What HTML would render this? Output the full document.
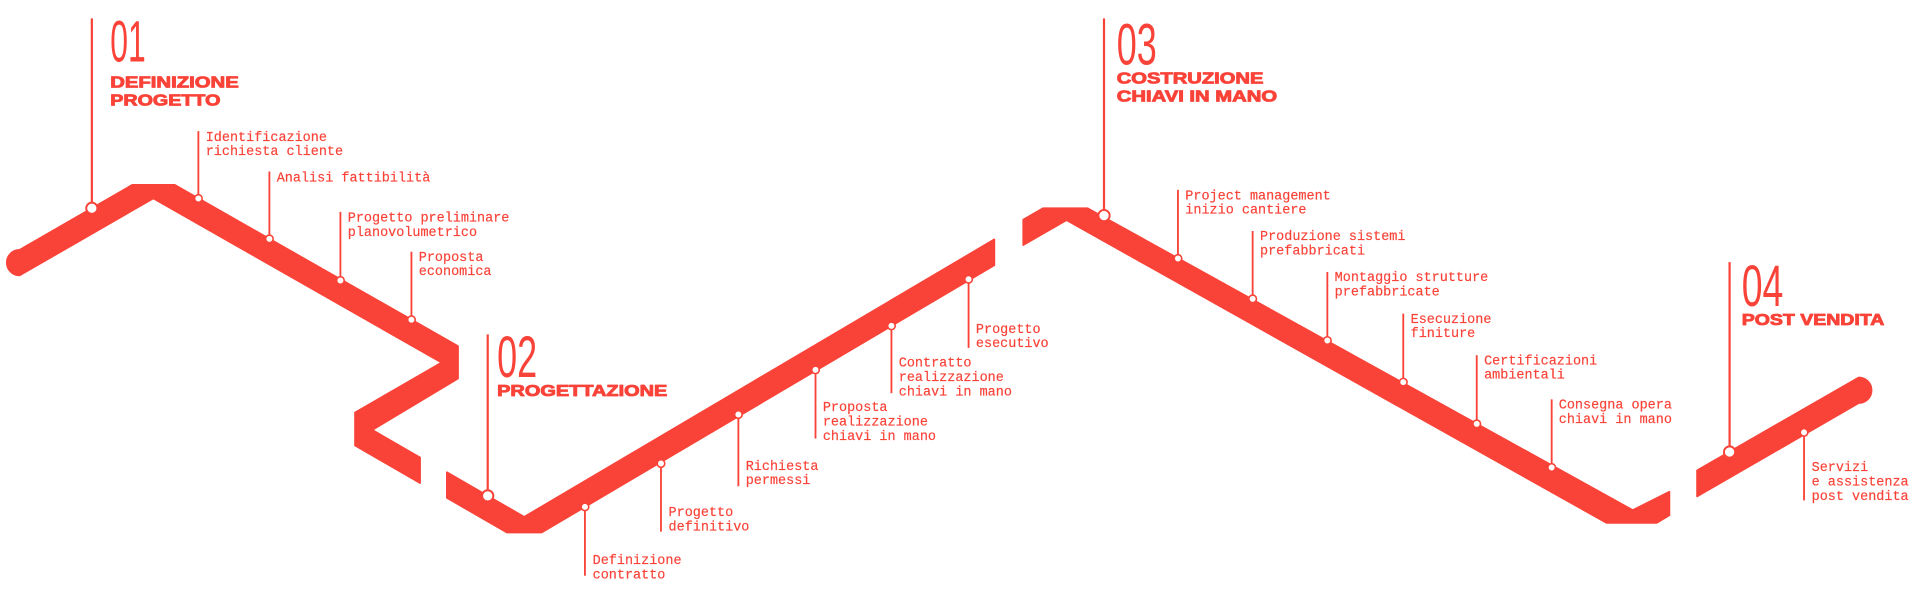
<!DOCTYPE html>
<html><head><meta charset="utf-8"><style>
html,body{margin:0;padding:0;background:#fff;}
svg{display:block;}
.m{font-family:"Liberation Mono",monospace;font-size:11px;fill:#fa4338;stroke:#fa4338;stroke-width:0.15;}
.h{font-family:"Liberation Sans",sans-serif;font-weight:bold;font-size:12.8px;fill:#fa4338;stroke:#fa4338;stroke-width:0.7;stroke-linejoin:round;}
.n{font-family:"Liberation Sans",sans-serif;font-size:48px;fill:#fa4338;}
</style></head><body>
<svg width="1920" height="599" viewBox="0 0 1568 489" preserveAspectRatio="none" xmlns="http://www.w3.org/2000/svg">
<g fill="#fa4338" stroke="#fa4338" stroke-width="1.5" stroke-linejoin="round">
<path d="M16,204 L108,151 L142.7,151 L374,282.6 L374,309 L304,351 L343,373.5 L343,394.3 L290,363.7 L290,336.8 L360.7,296 L125.2,161.9 L16,224.8 A10.4,10.4 0 0 1 16,204 Z"/>
<path d="M365,385.6 L428.1,422 L812,195.5 L812,216.5 L442.3,434.7 L414,434.7 L365,406.4 Z"/>
<path d="M835.7,179.3 L851.8,170 L888.2,170 L1333.4,416.5 L1363.3,401.5 L1363.3,420.6 L1353,426.8 L1312,426.8 L871,179.7 L835.7,200 Z"/>
<path d="M1386,384 L1518,308.2 A10.4,10.4 0 0 1 1518,329 L1386,405.2 Z"/>
</g>
<g stroke="#fa4338" stroke-width="1.8" fill="none">
<line x1="75" y1="15" x2="75" y2="170"/>
<line x1="398.3" y1="273" x2="398.3" y2="404.8"/>
<line x1="901.6" y1="15" x2="901.6" y2="176"/>
<line x1="1412.5" y1="214" x2="1412.5" y2="369"/>
</g>
<g stroke="#fa4338" stroke-width="1.5" fill="none">
<line x1="162" y1="107" x2="162" y2="162"/>
<line x1="220" y1="140" x2="220" y2="195"/>
<line x1="278" y1="173" x2="278" y2="229"/>
<line x1="336" y1="205.5" x2="336" y2="261"/>
<line x1="477.7" y1="413.8" x2="477.7" y2="470"/>
<line x1="539.8" y1="378.4" x2="539.8" y2="434"/>
<line x1="603" y1="338.4" x2="603" y2="397"/>
<line x1="666" y1="302" x2="666" y2="358"/>
<line x1="728" y1="266" x2="728" y2="321"/>
<line x1="791" y1="228" x2="791" y2="284"/>
<line x1="962" y1="155" x2="962" y2="211"/>
<line x1="1023" y1="188.6" x2="1023" y2="244"/>
<line x1="1084" y1="222" x2="1084" y2="278"/>
<line x1="1146" y1="256" x2="1146" y2="312"/>
<line x1="1206" y1="290" x2="1206" y2="346"/>
<line x1="1267.2" y1="326" x2="1267.2" y2="381.6"/>
<line x1="1473.3" y1="353" x2="1473.3" y2="408.5"/>
</g>
<g fill="#fff" stroke="#fa4338" stroke-width="1.6">
<circle cx="75" cy="170" r="4.6"/>
<circle cx="398.3" cy="404.8" r="4.6"/>
<circle cx="901.6" cy="176" r="4.6"/>
<circle cx="1412.5" cy="369" r="4.6"/>
</g>
<g fill="#fff" stroke="#fa4338" stroke-width="1.3">
<circle cx="162" cy="162" r="3.1"/>
<circle cx="220" cy="195" r="3.1"/>
<circle cx="278" cy="229" r="3.1"/>
<circle cx="336" cy="261" r="3.1"/>
<circle cx="477.7" cy="413.8" r="3.1"/>
<circle cx="539.8" cy="378.4" r="3.1"/>
<circle cx="603" cy="338.4" r="3.1"/>
<circle cx="666" cy="302" r="3.1"/>
<circle cx="728" cy="266" r="3.1"/>
<circle cx="791" cy="228" r="3.1"/>
<circle cx="962" cy="211" r="3.1"/>
<circle cx="1023" cy="244" r="3.1"/>
<circle cx="1084" cy="278" r="3.1"/>
<circle cx="1146" cy="312" r="3.1"/>
<circle cx="1206" cy="346" r="3.1"/>
<circle cx="1267.2" cy="381.6" r="3.1"/>
<circle cx="1473.3" cy="353" r="3.1"/>
</g>
<text class="n" x="90" y="50.4" textLength="29" lengthAdjust="spacingAndGlyphs">01</text>
<text class="h" x="90" y="71.3" textLength="105" lengthAdjust="spacingAndGlyphs">DEFINIZIONE</text>
<text class="h" x="90" y="86" textLength="90" lengthAdjust="spacingAndGlyphs">PROGETTO</text>
<text class="n" x="406" y="307.6" textLength="32.7" lengthAdjust="spacingAndGlyphs">02</text>
<text class="h" x="406" y="323.4" textLength="139" lengthAdjust="spacingAndGlyphs">PROGETTAZIONE</text>
<text class="n" x="912" y="52.5" textLength="32.7" lengthAdjust="spacingAndGlyphs">03</text>
<text class="h" x="912" y="68" textLength="119.8" lengthAdjust="spacingAndGlyphs">COSTRUZIONE</text>
<text class="h" x="912" y="83" textLength="131" lengthAdjust="spacingAndGlyphs">CHIAVI IN MANO</text>
<text class="n" x="1422.4" y="249.9" textLength="34" lengthAdjust="spacingAndGlyphs">04</text>
<text class="h" x="1422.4" y="265.4" textLength="116.5" lengthAdjust="spacingAndGlyphs">POST VENDITA</text>
<text class="m" x="168" y="115"><tspan>Identificazione</tspan><tspan x="168" dy="11.7">richiesta cliente</tspan></text>
<text class="m" x="226" y="148">Analisi fattibilità</text>
<text class="m" x="284" y="181"><tspan>Progetto preliminare</tspan><tspan x="284" dy="11.7">planovolumetrico</tspan></text>
<text class="m" x="342" y="213"><tspan>Proposta</tspan><tspan x="342" dy="11.7">economica</tspan></text>
<text class="m" x="484" y="460.6"><tspan>Definizione</tspan><tspan x="484" dy="11.7">contratto</tspan></text>
<text class="m" x="546" y="421.4"><tspan>Progetto</tspan><tspan x="546" dy="11.7">definitivo</tspan></text>
<text class="m" x="609" y="383.5"><tspan>Richiesta</tspan><tspan x="609" dy="11.7">permessi</tspan></text>
<text class="m" x="672" y="335.6"><tspan>Proposta</tspan><tspan x="672" dy="11.7">realizzazione</tspan><tspan x="672" dy="11.7">chiavi in mano</tspan></text>
<text class="m" x="734" y="299.4"><tspan>Contratto</tspan><tspan x="734" dy="11.7">realizzazione</tspan><tspan x="734" dy="11.7">chiavi in mano</tspan></text>
<text class="m" x="797" y="271.7"><tspan>Progetto</tspan><tspan x="797" dy="11.7">esecutivo</tspan></text>
<text class="m" x="968" y="162.8"><tspan>Project management</tspan><tspan x="968" dy="11.7">inizio cantiere</tspan></text>
<text class="m" x="1029" y="196"><tspan>Produzione sistemi</tspan><tspan x="1029" dy="11.7">prefabbricati</tspan></text>
<text class="m" x="1090" y="229.5"><tspan>Montaggio strutture</tspan><tspan x="1090" dy="11.7">prefabbricate</tspan></text>
<text class="m" x="1152" y="263.5"><tspan>Esecuzione</tspan><tspan x="1152" dy="11.7">finiture</tspan></text>
<text class="m" x="1212" y="297.5"><tspan>Certificazioni</tspan><tspan x="1212" dy="11.7">ambientali</tspan></text>
<text class="m" x="1273" y="333.5"><tspan>Consegna opera</tspan><tspan x="1273" dy="11.7">chiavi in mano</tspan></text>
<text class="m" x="1479.5" y="384.6"><tspan>Servizi</tspan><tspan x="1479.5" dy="11.7">e assistenza</tspan><tspan x="1479.5" dy="11.7">post vendita</tspan></text>
</svg>
</body></html>
